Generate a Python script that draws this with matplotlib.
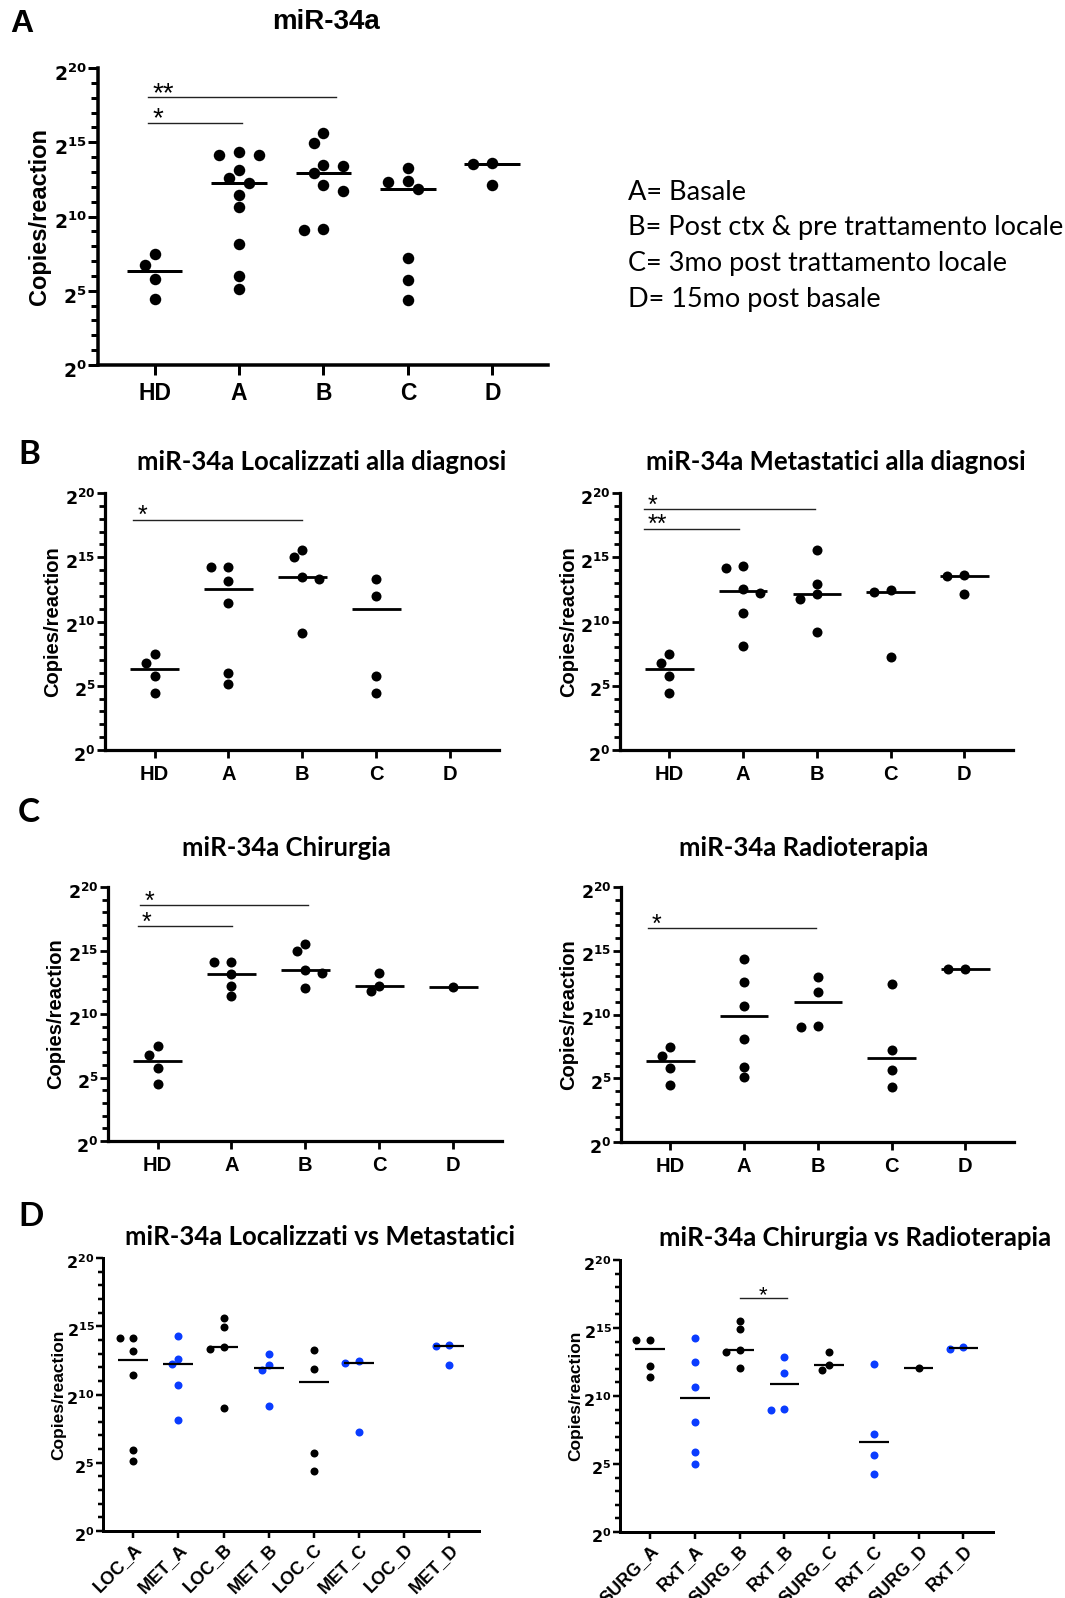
import numpy as np
import matplotlib
matplotlib.use("Agg")
import matplotlib.pyplot as plt
import matplotlib.transforms as mtransforms
from matplotlib.ticker import FixedLocator, FixedFormatter, NullFormatter

plt.rcParams['font.family'] = ['Liberation Sans', 'DejaVu Sans']
plt.rcParams['mathtext.fontset'] = 'custom'
plt.rcParams['mathtext.rm'] = 'DejaVu Sans:bold'
plt.rcParams['mathtext.bf'] = 'DejaVu Sans:bold'
plt.rcParams['mathtext.default'] = 'bf'

W, H = 1065, 1598
BLACK = '#000000'
BLUE = '#0a3cff'

# ---- data: log2(copies/reaction) ----
cats5 = ['HD', 'A', 'B', 'C', 'D']

# panel A - all patients
hd = [7.46, 6.74, 5.78, 4.45]
all_A = [14.34, 14.13, 14.13, 13.15, 12.58, 12.27, 11.46, 10.67, 8.13, 5.96, 5.12]
all_B = [15.62, 14.94, 13.48, 13.42, 12.92, 12.09, 11.75, 9.15, 9.06]
all_C = [13.26, 12.40, 12.29, 11.87, 7.19, 5.73, 4.38]
all_D = [13.60, 13.51, 12.13]

# panel B - localized / metastatic at diagnosis
loc_A = [14.21, 14.21, 13.19, 11.43, 5.97, 5.14]
loc_B = [15.58, 14.99, 13.43, 13.32, 9.09]
loc_C = [13.30, 11.95, 5.77, 4.42]
loc_D = []
met_A = [14.34, 14.16, 12.55, 12.21, 10.70, 8.13]
met_B = [15.58, 12.94, 12.13, 11.77, 9.17]
met_C = [12.47, 12.29, 7.22]
met_D = [13.58, 13.51, 12.16]

# panel C - surgery / radiotherapy
surg_A = [14.10, 14.10, 13.18, 12.19, 11.40]
surg_B = [15.54, 14.96, 13.44, 13.26, 12.08]
surg_C = [13.24, 12.21, 11.82]
surg_D = [12.14]
rxt_A = [14.33, 12.55, 10.67, 8.10, 5.88, 5.10]
rxt_B = [12.94, 11.76, 9.10, 9.02]
rxt_C = [12.42, 7.19, 5.67, 4.31]
rxt_D = [13.59, 13.54]

# panel D - side by side comparisons
cats_lm = ['LOC_A', 'MET_A', 'LOC_B', 'MET_B', 'LOC_C', 'MET_C', 'LOC_D', 'MET_D']
lm_groups = [[14.16, 14.16, 13.16, 11.45, 5.96, 5.13],
             [14.31, 12.58, 12.26, 10.70, 8.16],
             [15.58, 14.94, 13.48, 13.31, 9.04],
             [12.94, 12.13, 11.77, 9.14],
             [13.28, 11.89, 5.71, 4.37],
             [12.43, 12.28, 7.23],
             [],
             [13.61, 13.53, 12.16]]
cats_sr = ['SURG_A', 'RxT_A', 'SURG_B', 'RxT_B', 'SURG_C', 'RxT_C', 'SURG_D', 'RxT_D']
sr_groups = [[14.11, 14.11, 12.20, 11.37],
             [14.28, 12.48, 10.63, 8.10, 5.87, 5.03],
             [15.54, 14.90, 13.38, 13.25, 12.07],
             [12.88, 11.70, 9.08, 9.00],
             [13.25, 12.27, 11.90],
             [12.34, 7.17, 5.64, 4.29],
             [12.09],
             [13.57, 13.42]]

# significance bars: (from, to, log2 height, label)
sig_all = [(-0.08, 2.15, 18.02, '**'), (-0.08, 1.04, 16.29, '*')]
sig_loc = [(-0.29, 1.99, 17.92, '*')]
sig_met = [(-0.35, 1.98, 18.75, '*'), (-0.35, 0.94, 17.22, '**')]
sig_surg = [(-0.24, 2.04, 18.56, '*'), (-0.27, 1.01, 16.93, '*')]
sig_rxt = [(-0.31, 1.98, 16.78, '*')]
sig_sr = [(2.01, 3.05, 17.23, '*')]

legend_lines = ['A= Basale', 'B= Post ctx & pre trattamento locale',
                'C= 3mo post trattamento locale', 'D= 15mo post basale']

# ---- styles (px converted to pt at 100 dpi) ----
PT = 0.72
big = dict(dot=11.5, spine=3.5, maj=10, mnr=7, tw=3, med=3, ytick=13.5, xtick=16.5, ylab=17,
           star=20, xpad=5, ydrop=4)
mid = dict(dot=10, spine=3.2, maj=8, mnr=6, tw=2.8, med=2.8, ytick=12.5, xtick=14.5, ylab=14.5,
           star=18, xpad=5, ydrop=3)
small = dict(dot=8, spine=3.0, maj=7, mnr=5, tw=2.5, med=2.2, ytick=11.5, xtick=13, ylab=12.5,
             star=16, xpad=2, ydrop=3)

fig = plt.figure(figsize=(W / 100, H / 100), dpi=100)


def swarm(ax, xc, yv, diam):
    pts = ax.transData.transform(np.column_stack([np.full(len(yv), xc), yv]))
    ys = pts[:, 1]
    step = 0.85 * diam
    placed = []
    offs = np.zeros(len(yv))
    nl = nr = 0
    for idx in np.argsort(-ys, kind='stable'):
        y = ys[idx]
        got = None
        for k in range(25):
            if k == 0:
                cands = [0.0]
            elif nl <= nr:
                cands = [-k * step, k * step]
            else:
                cands = [k * step, -k * step]
            for c in cands:
                if all((c - px) ** 2 + (y - py) ** 2 >= (0.98 * diam) ** 2 for px, py in placed):
                    got = c
                    break
            if got is not None:
                break
        offs[idx] = got
        if got < 0:
            nl += 1
        elif got > 0:
            nr += 1
        placed.append((got, y))
    x0, x1 = ax.get_xlim()
    return offs / (ax.bbox.width / (x1 - x0))


def panel(box, cats, groups, colors, st, sig, ylab_x, centre_star=False, rotate=False):
    l, t, r, b = box
    ax = fig.add_axes([l / W, 1 - b / H, (r - l) / W, (b - t) / H])
    ax.set_yscale('log', base=2)
    ax.set_ylim(1, 2 ** 20)
    ax.set_xlim(-0.67, len(cats) - 1 + 0.66)
    for s in ['top', 'right']:
        ax.spines[s].set_visible(False)
    for s in ['left', 'bottom']:
        ax.spines[s].set_linewidth(st['spine'] * PT)
    ax.patch.set_visible(False)

    exps = list(range(0, 21, 5))
    ax.yaxis.set_major_locator(FixedLocator([2.0 ** k for k in exps]))
    ax.yaxis.set_major_formatter(FixedFormatter([r'$2^{%d}$' % k for k in exps]))
    ax.yaxis.set_minor_locator(FixedLocator([2.0 ** k for k in range(21) if k % 5]))
    ax.yaxis.set_minor_formatter(NullFormatter())
    ax.tick_params(axis='y', which='major', length=st['maj'] * PT, width=st['tw'] * PT,
                   labelsize=st['ytick'], pad=1)
    ax.tick_params(axis='y', which='minor', length=st['mnr'] * PT, width=st['tw'] * PT)
    drop = mtransforms.ScaledTranslation(0, -st['ydrop'] / 100, fig.dpi_scale_trans)
    for lab in ax.get_yticklabels():
        lab.set_transform(lab.get_transform() + drop)
    ax.set_xticks(range(len(cats)))
    ax.tick_params(axis='x', which='major', length=st['maj'] * PT, width=st['tw'] * PT,
                   pad=st['xpad'])
    ax.tick_params(axis='x', which='minor', bottom=False)
    if rotate:
        ax.set_xticklabels(cats, fontsize=st['xtick'], fontweight='bold', rotation=45,
                           ha='right', rotation_mode='anchor')
    else:
        ax.set_xticklabels(cats, fontsize=st['xtick'], fontweight='bold')

    ms = st['dot'] * PT
    for i, (vals, col) in enumerate(zip(groups, colors)):
        if len(vals) == 0:
            continue
        yv = np.power(2.0, vals)
        xv = i + swarm(ax, i, yv, st['dot'])
        ax.plot(xv, yv, 'o', ms=ms, color=col, mec='none', zorder=3, clip_on=False)
        med = np.median(yv)
        ax.plot([i - 0.33, i + 0.33], [med, med], color=BLACK, lw=st['med'] * PT,
                solid_capstyle='butt', zorder=4)

    for x0, x1, yy, lab in sig:
        ax.plot([x0, x1], [2.0 ** yy] * 2, color='#222222', lw=1.0, zorder=2, clip_on=False)
        if centre_star:
            ax.annotate(lab, ((x0 + x1) / 2, 2.0 ** yy), xytext=(0, -2.5), textcoords='offset points',
                        ha='center', va='baseline', fontsize=st['star'])
        else:
            ax.annotate(lab, (x0 + 0.06, 2.0 ** yy), xytext=(0, -2.5), textcoords='offset points',
                        ha='left', va='baseline', fontsize=st['star'])

    ax.set_ylabel('Copies/reaction', fontsize=st['ylab'], fontweight='bold', va='center')
    ax.yaxis.set_label_coords(ylab_x / W, 1 - (t + b) / 2 / H, transform=fig.transFigure)
    return ax


def ftext(x, y, s, **kw):
    fig.text(x / W, 1 - y / H, s, **kw)


TITLE = dict(ha='center', va='center', fontsize=18.5, fontweight='bold', family='Lato')
LETTER = dict(ha='left', va='center', fontsize=24, fontweight='bold', family='Lato')

# panel A
panel((98, 68, 548, 365), cats5, [hd, all_A, all_B, all_C, all_D], [BLACK] * 5, big, sig_all, 40)
ftext(326, 22, 'miR-34a', ha='center', va='center', fontsize=20, fontweight='bold')
ftext(10, 24, 'A', ha='left', va='center', fontsize=23, fontweight='bold')
for j, line in enumerate(legend_lines):
    ftext(628, 192 + 36 * j, line, ha='left', va='center', fontsize=19.5, family='Lato')

# panel B
panel((105, 493, 499, 750), cats5, [hd, loc_A, loc_B, loc_C, loc_D], [BLACK] * 5, mid, sig_loc, 53)
panel((620, 493, 1013, 750), cats5, [hd, met_A, met_B, met_C, met_D], [BLACK] * 5, mid, sig_met, 569)
ftext(322, 462, 'miR-34a Localizzati alla diagnosi', **TITLE)
ftext(836, 462, 'miR-34a Metastatici alla diagnosi', **TITLE)
ftext(18, 455, 'B', **LETTER)

# panel C
panel((108, 887, 502, 1141), cats5, [hd, surg_A, surg_B, surg_C, surg_D], [BLACK] * 5, mid, sig_surg, 56)
panel((621, 887, 1014, 1142), cats5, [hd, rxt_A, rxt_B, rxt_C, rxt_D], [BLACK] * 5, mid, sig_rxt, 569)
ftext(286, 848, 'miR-34a Chirurgia', **TITLE)
ftext(804, 848, 'miR-34a Radioterapia', **TITLE)
ftext(18, 813, 'C', **LETTER)

# panel D
alt = [BLACK, BLUE] * 4
panel((103, 1258, 479, 1531), cats_lm, lm_groups, alt, small, [], 59, rotate=True)
panel((620, 1260, 993, 1532), cats_sr, sr_groups, alt, small, sig_sr, 576, centre_star=True, rotate=True)
ftext(320, 1237, 'miR-34a Localizzati vs Metastatici', **TITLE)
ftext(855, 1238, 'miR-34a Chirurgia vs Radioterapia', **TITLE)
ftext(18, 1217, 'D', **LETTER)

fig.savefig('out.png', dpi=100)
